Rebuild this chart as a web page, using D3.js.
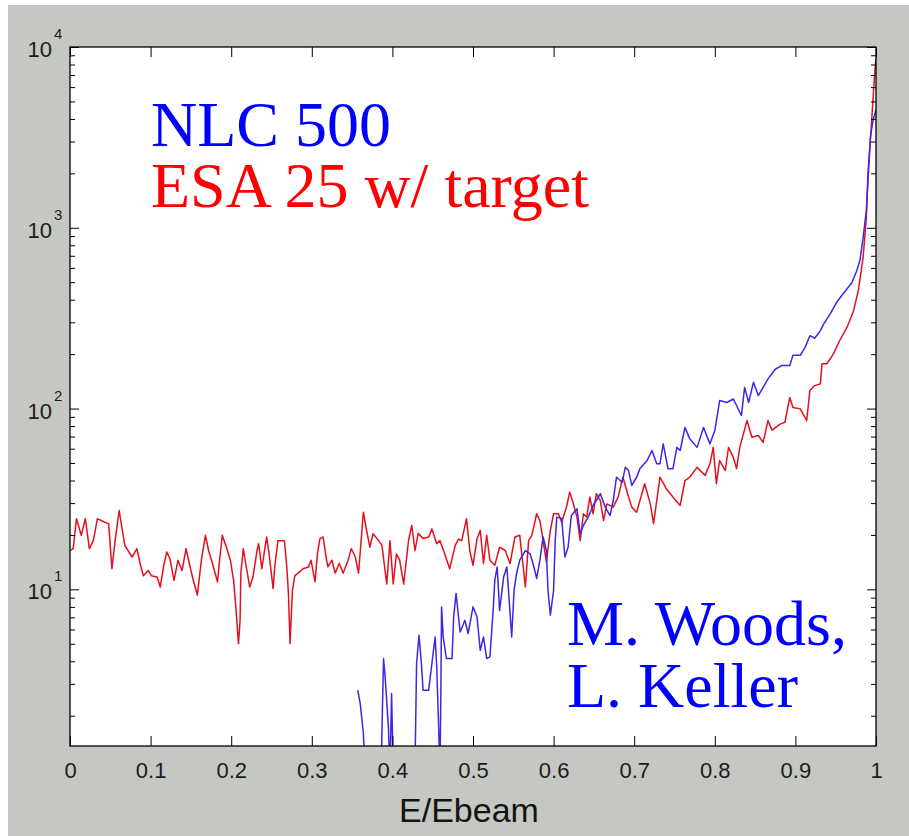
<!DOCTYPE html>
<html>
<head>
<meta charset="utf-8">
<script src="https://cdn.jsdelivr.net/npm/d3@7"></script>
<style>
  body { margin: 0; background: #fff; }
  svg { display: block; }
</style>
</head>
<body>
<div id="chart"></div>
<script>
// tick values
const xTicks = [0, 0.1, 0.2, 0.3, 0.4, 0.5, 0.6, 0.7, 0.8, 0.9, 1];
const yMajor = [10, 100, 1000, 10000];
const yExp = ["1", "2", "3", "4"];

// ESA 25 w/ target (red)
const redE = [0.000,0.004,0.008,0.014,0.019,0.024,0.029,0.034,0.043,0.048,0.052,0.056,0.061,0.068,0.077,0.083,0.087,0.091,0.097,0.101,
  0.108,0.112,0.116,0.120,0.124,0.129,0.134,0.139,0.144,0.149,0.153,0.158,0.163,0.168,0.172,0.178,0.183,0.186,0.189,0.194,
  0.199,0.203,0.206,0.209,0.211,0.212,0.215,0.218,0.223,0.227,0.232,0.234,0.238,0.244,0.247,0.252,0.254,0.258,0.266,0.269,
  0.271,0.273,0.276,0.279,0.283,0.289,0.296,0.299,0.304,0.307,0.310,0.314,0.318,0.320,0.325,0.329,0.334,0.339,0.345,0.349,
  0.354,0.358,
  0.364,0.368,0.372,0.376,0.383,0.387,0.393,0.397,0.401,0.405,0.409,0.414,0.420,0.424,0.428,0.432,0.438,0.445,0.449,0.455,
  0.459,0.465,0.471,0.478,0.482,0.486,0.492,0.496,0.500,0.505,0.509,0.513,0.517,0.521,0.527,0.533,0.540,0.546,0.552,0.558,
  0.565,0.569,0.573,0.579,0.583,0.587,0.591,0.596,0.600,0.606,0.610,0.616,0.620,0.624,0.629,0.633,0.637,0.641,0.645,0.649,
  0.653,
  0.658,0.662,0.666,0.674,0.680,0.686,0.693,0.697,0.703,0.713,0.720,0.724,0.732,0.740,0.748,0.757,0.763,0.769,0.778,0.788,
  0.794,0.798,0.802,0.806,0.813,0.817,0.823,0.827,0.831,0.840,0.846,0.854,0.860,0.866,0.871,0.881,0.887,0.893,0.897,0.906,
  0.914,0.918,0.924,0.931,0.933,0.939,0.947,0.955,0.964,0.972,0.978,0.984,0.988,0.990,0.993,0.998,1.000];
const redN = [16.4,16.8,24.6,19.9,24.6,16.8,18.6,24.6,23.5,23.1,13.0,18.6,27.3,17.5,15.1,16.8,13.9,11.9,12.7,11.9,
  11.7,10.3,13.3,16.1,14.8,11.2,14.5,12.7,16.8,13.3,11.2,9.3,14.5,19.9,16.4,13.3,11.0,15.1,19.9,17.1,
  14.5,11.2,7.7,5.0,6.7,12.3,16.8,13.9,10.3,11.7,16.4,17.9,13.0,19.5,15.7,10.1,13.3,18.6,18.6,13.3,
  9.5,5.0,9.9,11.9,12.3,13.0,13.3,14.5,11.0,15.7,19.0,19.5,14.8,13.3,14.5,12.3,13.9,12.3,14.5,16.8,
  15.1,12.3,
  26.7,21.2,17.1,20.3,18.6,17.5,10.7,18.6,10.7,15.7,14.5,10.7,18.6,22.6,16.4,20.4,19.1,19.5,21.6,17.9,
  18.6,15.7,13.0,17.5,19.0,18.6,24.6,16.4,13.6,19.0,21.2,13.9,19.9,14.5,13.6,17.1,16.4,13.9,19.5,19.9,
  10.3,18.6,19.9,26.2,24.0,18.6,14.2,21.2,26.2,26.2,23.5,28.5,34.5,30.3,25.1,18.6,26.2,25.1,32.4,26.2,
  33.8,
  31,24,29.7,28.5,32.4,41.7,32.4,28.5,26.7,38.4,29.7,23.1,41.7,36.0,32.4,29.1,40,41.7,47.3,42.7,
  49.5,61,38.4,51.6,45.4,61,53.7,46.6,61,86,69.4,71,65,86,76,82,84,115,101.5,99.6,
  86,126,134,137,177,177,200,238,281,345,448,685,1140,1990,3020,6770,8700];

// NLC 500 (blue); 1 = empty bin, falls below the axis
const blueE = [0.357,0.360,0.364,0.366,0.386,0.389,0.391,0.395,0.397,0.399,0.401,0.428,0.430,0.433,0.436,0.438,0.445,0.449,0.453,0.455,
  0.457,0.459,0.460,0.461,0.463,0.467,0.474,0.476,0.479,0.484,0.490,0.494,0.500,0.505,0.509,0.513,0.517,0.521,0.525,0.527,
  0.530,0.533,0.538,0.542,0.544,0.548,0.551,0.554,0.558,0.565,0.571,0.575,0.579,0.583,0.587,0.591,0.593,0.596,0.600,0.602,
  0.604,0.610,0.614,0.618,0.622,0.629,0.633,0.637,0.643,0.649,0.658,0.664,0.670,0.674,0.678,0.685,0.689,0.693,0.697,0.703,
  0.707,0.716,0.722,0.728,0.732,0.736,0.742,0.748,0.753,0.757,0.763,0.769,0.778,0.786,0.794,0.800,0.806,0.815,0.823,0.833,
  0.837,0.842,0.848,0.854,0.860,0.866,0.875,0.883,0.893,0.897,0.906,0.912,0.918,0.924,0.931,0.935,0.943,0.951,0.959,0.970,
  0.976,0.980,0.984,0.988,0.993,0.996,1.000];
const blueN = [2.77,2.35,1.6,1,1,4.14,3.28,1.74,1,2.65,1,1,3.89,5.57,3.89,2.77,2.77,3.89,5.45,3.72,
  1.97,1,2.35,8.0,5.45,4.14,4.14,7.04,9.5,5.81,6.74,5.7,8.0,7.04,4.6,5.45,4.14,4.23,7.65,11.2,
  13.3,7.65,11.7,13.3,9.9,5.45,9.9,12.2,14.5,16.4,15.7,13.6,11.5,14.5,19.5,16.4,9.9,7.2,9.9,18.6,
  25.1,24.7,15.1,17.1,25.6,27.9,20.3,22.6,25.1,29.1,33.8,28.5,25.6,31,41.7,39.1,47.3,45.4,37.6,41.7,
  46.4,51.6,58.6,49.5,49.5,63.8,46.4,46.4,61,58.6,78.6,68,61,78.6,63.8,75.6,110.7,108,113,91.5,
  131,108,140,118,131,146,165,173,173,197,197,218,253,245,270,293,333,386,430,497,
  577,659,880,1240,3150,3870,4500];

const W = 909, H = 836;
const plotL = 70, plotR = 876, plotT = 47, plotB = 746;

const svg = d3.select("#chart").append("svg")
  .attr("width", W)
  .attr("height", H);

// grey figure background
svg.append("rect")
  .attr("x", 8).attr("y", 5)
  .attr("width", W - 8).attr("height", H - 5)
  .attr("fill", "#c4c7c2");

svg.append("rect")
  .attr("x", plotL).attr("y", plotT)
  .attr("width", plotR - plotL).attr("height", plotB - plotT)
  .attr("fill", "#fff");

let x = d3.scaleLinear().domain([0, 1]).range([plotL, plotR]);
let y = d3.scaleLog().domain([1.36, 10000]).range([plotB, plotT]);

svg.append("clipPath").attr("id", "plot-clip")
  .append("rect")
  .attr("x", plotL).attr("y", plotT)
  .attr("width", plotR - plotL).attr("height", plotB - plotT);

let line = d3.line()
  .x(function(d) { return x(d[0]); })
  .y(function(d) { return y(d[1]); });

let red = redE.map(function(e, i) { return [e, redN[i]]; });
let blue = blueE.map(function(e, i) { return [e, blueN[i]]; });

let plot = svg.append("g").attr("clip-path", "url(#plot-clip)");

plot.append("path")
  .datum(red)
  .attr("d", line)
  .attr("fill", "none")
  .attr("stroke", "#e4101e")
  .attr("stroke-width", 1.5)
  .attr("stroke-linejoin", "round");

plot.append("path")
  .datum(blue)
  .attr("d", line)
  .attr("fill", "none")
  .attr("stroke", "#3d26e6")
  .attr("stroke-width", 1.5)
  .attr("stroke-linejoin", "round");

// minor log ticks
let yMinor = [];
[1, 10, 100, 1000].forEach(function(dec) {
  for (let k = 2; k <= 9; k++) {
    let v = k * dec;
    if (v >= 1.36 && v < 10000) yMinor.push(v);
  }
});

function styleAxis(g) {
  g.select(".domain").remove();
  g.selectAll(".tick line").attr("stroke", "#000");
  g.selectAll("text")
    .attr("font-family", "'Liberation Sans', Arial, sans-serif")
    .attr("font-size", 22)
    .attr("fill", "#1c1c1c");
}

svg.append("g")
  .attr("transform", "translate(0," + plotB + ")")
  .call(d3.axisBottom(x).tickValues(xTicks).tickSize(-10).tickSizeOuter(0).tickPadding(16)
    .tickFormat(function(d) { return String(+d.toFixed(1)); }))
  .call(styleAxis);

svg.append("g")
  .attr("transform", "translate(0," + plotT + ")")
  .call(d3.axisTop(x).tickValues(xTicks).tickSize(-10).tickSizeOuter(0).tickFormat(""))
  .call(styleAxis);

[[plotL, d3.axisLeft], [plotR, d3.axisRight]].forEach(function(side) {
  let g = svg.append("g").attr("transform", "translate(" + side[0] + ",0)");
  g.append("g").call(side[1](y).tickValues(yMajor).tickSize(-9).tickSizeOuter(0).tickFormat("")).call(styleAxis);
  g.append("g").call(side[1](y).tickValues(yMinor).tickSize(-5).tickSizeOuter(0).tickFormat("")).call(styleAxis);
});

// y labels as 10^n
let yLab = svg.append("g")
  .attr("font-family", "'Liberation Sans', Arial, sans-serif")
  .attr("fill", "#1c1c1c");

yMajor.forEach(function(v, i) {
  yLab.append("text")
    .attr("x", 52).attr("y", y(v) + 10)
    .attr("text-anchor", "end")
    .attr("font-size", 22)
    .text("10");
  yLab.append("text")
    .attr("x", 54).attr("y", y(v) - 8)
    .attr("font-size", 15)
    .text(yExp[i]);
});

// frame
svg.append("rect")
  .attr("x", plotL).attr("y", plotT)
  .attr("width", plotR - plotL).attr("height", plotB - plotT)
  .attr("fill", "none")
  .attr("stroke", "#000")
  .attr("stroke-width", 1.3);

svg.append("text")
  .attr("x", 469).attr("y", 822)
  .attr("text-anchor", "middle")
  .attr("font-family", "'Liberation Sans', Arial, sans-serif")
  .attr("font-size", 34)
  .attr("fill", "#141414")
  .text("E/Ebeam");

// annotations
let notes = [
  { t: "NLC 500", x: 151, y: 146, c: "#0000ff" },
  { t: "ESA 25 w/ target", x: 151, y: 207, c: "#ff0000" },
  { t: "M. Woods,", x: 567, y: 645, c: "#0000ff" },
  { t: "L. Keller", x: 567, y: 707, c: "#0000ff" }
];

svg.selectAll("text.note")
  .data(notes)
  .enter().append("text")
  .attr("class", "note")
  .attr("x", function(d) { return d.x; })
  .attr("y", function(d) { return d.y; })
  .attr("font-family", "'Liberation Serif', 'Times New Roman', serif")
  .attr("font-size", 64)
  .attr("fill", function(d) { return d.c; })
  .text(function(d) { return d.t; });
</script>
</body>
</html>
